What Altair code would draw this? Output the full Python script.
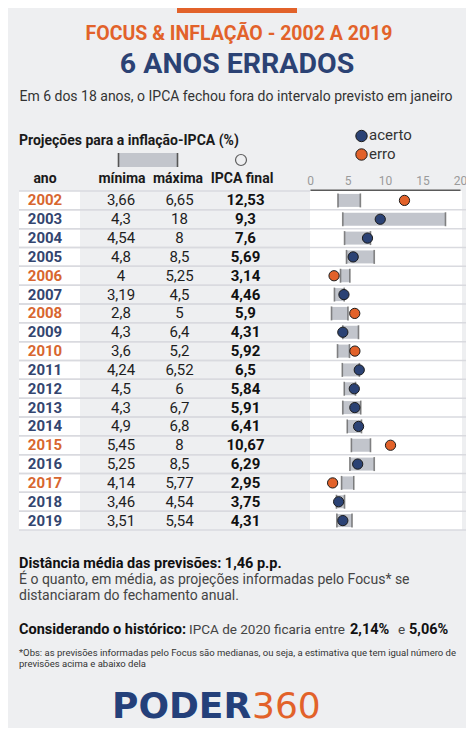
import altair as alt
import pandas as pd

# ---------------- data ----------------
anos = [2002, 2003, 2004, 2005, 2006, 2007, 2008, 2009, 2010,
        2011, 2012, 2013, 2014, 2015, 2016, 2017, 2018, 2019]
minima = [3.66, 4.3, 4.54, 4.8, 4, 3.19, 2.8, 4.3, 3.6,
          4.24, 4.5, 4.3, 4.9, 5.45, 5.25, 4.14, 3.46, 3.51]
maxima = [6.65, 18, 8, 8.5, 5.25, 4.5, 5, 6.4, 5.2,
          6.52, 6, 6.7, 6.8, 8, 8.5, 5.77, 4.54, 5.54]
ipca_final = [12.53, 9.3, 7.6, 5.69, 3.14, 4.46, 5.9, 4.31, 5.92,
              6.5, 5.84, 5.91, 6.41, 10.67, 6.29, 2.95, 3.75, 4.31]
eixo_ticks = [0, 5, 10, 15, 20]
status_labels = ["acerto", "erro"]


def br(v):
    return f"{v:g}".replace(".", ",")


df = pd.DataFrame({
    "ano": [str(a) for a in anos],
    "minima": minima,
    "maxima": maxima,
    "ipca": ipca_final,
})
df["status"] = ["acerto" if lo <= v <= hi else "erro"
                for lo, hi, v in zip(minima, maxima, ipca_final)]
df["lmin"] = [br(v) for v in minima]
df["lmax"] = [br(v) for v in maxima]
df["lipca"] = [br(v) for v in ipca_final]

ticks_df = pd.DataFrame({"t": eixo_ticks})
one = pd.DataFrame({"k": [0]})

# ---------------- style ----------------
FONT = "Roboto"
BG = "#eeeff1"
NAVY = "#2b4274"
ORANGE = "#e2622a"
YEAR_NAVY = "#33456f"
YEAR_ORANGE = "#d8662f"
O = 8  # page margin offset

yscale = alt.Scale(domain=[str(a) for a in anos], range=[191 - O, 530 - O],
                   paddingInner=0, paddingOuter=0)
Y = alt.Y("ano:N", scale=yscale, axis=None)
xscale = alt.Scale(domain=[0, 20], range=[310.5 - O, 460.5 - O], nice=False, zero=False)


def X(field):
    return alt.X(field, type="quantitative", scale=xscale, axis=None)


fill_scale = alt.Scale(domain=status_labels, range=[NAVY, ORANGE])
year_scale = alt.Scale(domain=status_labels, range=[YEAR_NAVY, YEAR_ORANGE])


def txt(s, x, y, size, color="#222", weight="normal", align="left",
        font=FONT, baseline="alphabetic"):
    return alt.Chart(one).mark_text(
        font=font, fontSize=size, color=color, fontWeight=weight,
        align=align, baseline=baseline
    ).encode(x=alt.value(x - O), y=alt.value(y - O), text=alt.value(s))


def box(x1, x2, y1, y2, color):
    return alt.Chart(one).mark_rect(color=color).encode(
        x=alt.value(x1 - O), x2=alt.value(x2 - O),
        y=alt.value(y1 - O), y2=alt.value(y2 - O))


def vline(x, y1, y2, color, w):
    return alt.Chart(one).mark_rule(color=color, strokeWidth=w).encode(
        x=alt.value(x - O), y=alt.value(y1 - O), y2=alt.value(y2 - O))


layers = []

# top tab
layers.append(box(177, 297, O, O + 5, ORANGE))

# titles
layers.append(txt("FOCUS & INFLAÇÃO - 2002 A 2019", 239, 40, 19.5, ORANGE, "bold", "center"))
layers.append(txt("6 ANOS ERRADOS", 237, 73, 28.5, NAVY, "bold", "center"))
layers.append(txt("Em 6 dos 18 anos, o IPCA fechou fora do intervalo previsto em janeiro",
                  236, 101, 14, "#333", "normal", "center"))

layers.append(txt("Projeções para a inflação-IPCA (%)", 19, 145, 14, "#1a1a1a", "bold"))

# header legend: range bar + open circle
layers.append(box(118, 178, 153, 167, "#c2c5cc"))
layers.append(vline(118.5, 153, 167, "#555", 1.6))
layers.append(vline(177.5, 153, 167, "#555", 1.6))
layers.append(alt.Chart(one).mark_point(shape="circle", filled=False, size=120,
                                        stroke="#222", strokeWidth=1.2).encode(
    x=alt.value(241 - O), y=alt.value(160 - O)))

# column headers
for s, cx in [("ano", 45), ("mínima", 122), ("máxima", 178), ("IPCA final", 242)]:
    layers.append(txt(s, cx, 183, 14, "#1a1a1a", "bold", "center"))

# right legend acerto / erro
for lab, cy in [("acerto", 136), ("erro", 154.5)]:
    ldf = pd.DataFrame({"status": [lab]})
    layers.append(alt.Chart(ldf).mark_circle(size=130, stroke="#1b1b1b", strokeWidth=1,
                                             opacity=1).encode(
        x=alt.value(361.5 - O), y=alt.value(cy - O),
        fill=alt.Fill("status:N", scale=fill_scale, legend=None)))
    layers.append(alt.Chart(ldf).mark_text(font=FONT, fontSize=15, color="#333",
                                           align="left", baseline="middle").encode(
        x=alt.value(369 - O), y=alt.value(cy - 1 - O), text="status:N"))

# axis labels and axis line
layers.append(alt.Chart(ticks_df).mark_text(font=FONT, fontSize=12, color="#9a9a9a",
                                            baseline="alphabetic").encode(
    x=X("t"), y=alt.value(185 - O), text="t:Q"))
layers.append(alt.Chart(one).mark_rule(color="#5a5a5a", strokeWidth=2).encode(
    x=alt.X(datum=min(eixo_ticks), type="quantitative", scale=xscale, axis=None),
    x2=alt.datum(max(eixo_ticks)),
    y=alt.value(190.5 - O)))

base = alt.Chart(df)

# table backgrounds
layers.append(base.mark_rect(color="white").encode(
    y=Y, x=alt.value(19 - O), x2=alt.value(80 - O)))
layers.append(base.mark_rect(color="white").encode(
    y=Y, x=alt.value(310 - O), x2=alt.value(462 - O)))

# row separators
layers.append(base.mark_rule(color="#d9dadf", strokeWidth=1.5).encode(
    y=alt.Y("ano:N", scale=yscale, axis=None, bandPosition=1),
    x=alt.value(19 - O), x2=alt.value(474 - O)))
layers.append(base.mark_rule(color="#d9dadf", strokeWidth=1.5).encode(
    y=alt.Y("ano:N", scale=yscale, axis=None, bandPosition=0),
    x=alt.value(19 - O), x2=alt.value(310 - O)))

# table text
layers.append(base.mark_text(font=FONT, fontSize=15, fontWeight="bold",
                             align="center", baseline="middle").encode(
    y=Y, x=alt.value(45 - O), text="ano:N",
    color=alt.Color("status:N", scale=year_scale, legend=None)))
layers.append(base.mark_text(font=FONT, fontSize=15, color="#1e1e1e",
                             align="center", baseline="middle").encode(
    y=Y, x=alt.value(121 - O), text="lmin:N"))
layers.append(base.mark_text(font=FONT, fontSize=15, color="#1e1e1e",
                             align="center", baseline="middle").encode(
    y=Y, x=alt.value(179.5 - O), text="lmax:N"))
layers.append(base.mark_text(font=FONT, fontSize=15, fontWeight="bold", color="#111",
                             align="center", baseline="middle").encode(
    y=Y, x=alt.value(245.5 - O), text="lipca:N"))

# dot plot
layers.append(base.mark_bar(size=13, color="#c2c5cc").encode(
    y=Y, x=X("minima"), x2="maxima:Q"))
layers.append(base.mark_tick(size=14, thickness=1.6, color="#555").encode(
    y=Y, x=X("minima")))
layers.append(base.mark_tick(size=14, thickness=1.6, color="#555").encode(
    y=Y, x=X("maxima")))
layers.append(base.mark_circle(size=105, stroke="#1b1b1b", strokeWidth=1, opacity=1).encode(
    y=Y, x=X("ipca"),
    fill=alt.Fill("status:N", scale=fill_scale, legend=None)))

# bottom texts
layers.append(txt("Distância média das previsões: 1,46 p.p.", 19, 568, 14.5, "#111", "bold"))
layers.append(txt("É o quanto, em média, as projeções informadas pelo Focus* se",
                  19, 584, 14, "#444"))
layers.append(txt("distanciaram do fechamento anual.", 19, 600, 14, "#444"))

layers.append(txt("Considerando o histórico:", 19, 634, 14.5, "#111", "bold"))
layers.append(txt("IPCA de 2020 ficaria entre", 189, 634, 13.5, "#444"))
layers.append(txt("2,14%", 350, 634, 14.5, "#111", "bold"))
layers.append(txt("e", 398, 634, 13.5, "#444"))
layers.append(txt("5,06%", 409, 634, 14.5, "#111", "bold"))

layers.append(txt("*Obs: as previsões informadas pelo Focus são medianas, ou seja, a estimativa que tem igual número de",
                  19, 656, 9.5, "#333"))
layers.append(txt("previsões acima e abaixo dela", 19, 666.5, 9.5, "#333"))

# logo
layers.append(txt("PODER", 112, 718, 36, "#24407a", "bold", "left", "DejaVu Sans"))
layers.append(txt("360", 252, 718, 36, ORANGE, "normal", "left", "DejaVu Sans"))

chart = alt.layer(*layers).properties(
    width=458, height=720, background=BG, padding=0, autosize="none"
).configure_view(stroke=None)

chart.save("out.html", embed_options={"renderer": "svg", "actions": False})
